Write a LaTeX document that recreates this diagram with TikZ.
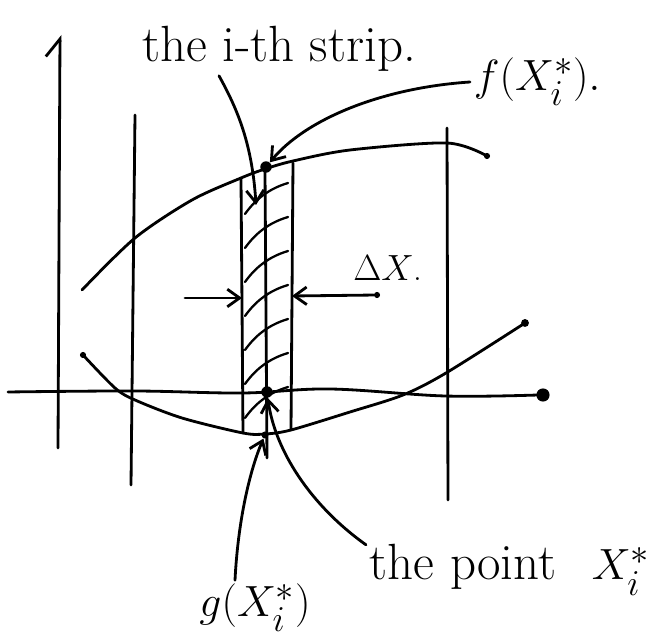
\documentclass[tikz,border=0pt]{standalone}
\usepackage{amsmath}
\usepackage{tikz}
\usetikzlibrary{positioning, arrows.meta, calc}

\begin{document}
\begin{tikzpicture}[
    x=0.02cm, y=-0.02cm,
    pen/.style={line width=1.6pt, line cap=round, line join=round},
    arr/.style={pen, -{Straight Barb[length=7pt, width=10pt]}},
    hatch/.style={line width=1.3pt, line cap=round},
    blob/.style={circle, fill=black, inner sep=0pt, minimum size=6.5pt},
    dotend/.style={blob, minimum size=3.5pt},
    lbl/.style={font=\fontsize{29}{34}\selectfont, inner sep=2pt},
    small/.style={font=\fontsize{20}{24}\selectfont, inner sep=2pt},
]
\useasboundingbox (0,0) rectangle (670,644);

% === Axes and grid lines ===
\draw[pen, -{Straight Barb[left, length=10pt, width=16pt]}] (58,448) -- (60,35);
\draw[pen] plot[smooth, tension=0.6] coordinates {(8,392) (135,391) (243,393) (330,389) (445,396) (538,395)};
\node[blob, minimum size=7.5pt] (xend) at (543,395) {};
\draw[pen] (135,115) -- (131,485);
\draw[pen] (447,128) -- (448,500);

% === Curves f and g ===
\draw[pen] plot[smooth] coordinates {(82,290) (135,238) (192,200) (241,178) (265,169) (293,161) (350,150) (447,143) (487,156)};
\draw[pen] plot[smooth] coordinates {(83,355) (115,388) (135,400) (182,418) (243,433) (265,434) (291,430) (350,412) (403,395) (446,373) (525,323)};
\node[dotend] (fend) at (487,156) {};
\node[dotend] (gstart) at (83,355) {};
\node[dotend, minimum size=4.5pt] (gend) at (525,323) {};

% === The strip ===
\draw[pen] (241,178) -- (243,433);
\draw[pen] (293,163) -- (291,430);
\draw[pen] (265,172) -- (267,458);
\foreach \y in {214,248,282,316,350,384,418}
    \draw[hatch] (245,\y) .. controls (255,\y-14) and (268,\y-25) .. (288,\y-31);

% points on the strip
\node[blob] (fstar) at (266,167) {};
\node[blob] (xstar) at (267,392) {};
\node[blob, minimum size=4pt] (gstar) at (265,435) {};
\coordinate (stripin) at (256,205);

% === Delta x ===
\coordinate (dxl) at (185,298);
\coordinate (ledge) at (242,298);
\coordinate (redge) at (292,296);
\node[dotend] (dxr) at (377,295) {};
\draw[arr] (dxl) -- (ledge);
\draw[arr] (dxr) -- (redge);
\node[small] (dxlbl) at (388,268) {$\Delta X$.};

% === Labels ===
\node[lbl, anchor=base] (striplbl) at (279,62) {the i-th strip.};
\node[lbl, anchor=west] (flbl) at (470,82) {$f(X_i^*)$.};
\node[lbl, anchor=base west] (ptlbl) at (366,580) {the point\hspace{0.7em}$X_i^*$};
\node[lbl] (glbl) at (255,608) {$g(X_i^*)$};

% Arrows from labels
\draw[arr] ([xshift=-1.2cm]striplbl.south) .. controls (235,105) and (252,140) .. (stripin);
\draw[arr] (flbl.west) .. controls (380,88) and (305,120) .. (fstar);
\draw[arr] ([yshift=0.5cm]ptlbl.west) .. controls (310,505) and (275,450) .. (xstar);
\draw[arr] ([xshift=-0.4cm]glbl.north) .. controls (238,520) and (250,470) .. (gstar);

\end{tikzpicture}
\end{document}
